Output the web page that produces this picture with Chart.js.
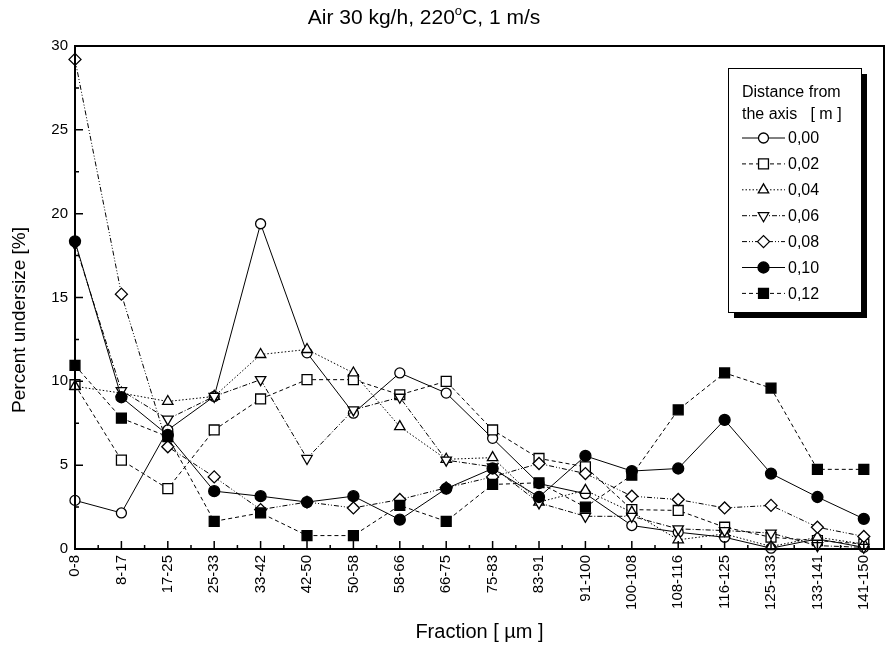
<!DOCTYPE html>
<html>
<head>
<meta charset="utf-8">
<script src="https://cdn.jsdelivr.net/npm/chart.js"></script>
<style>
  html, body { margin: 0; padding: 0; background: #fff; overflow: hidden; }
  #wrap { width: 885px; height: 648px; position: relative; }
</style>
</head>
<body>
<div id="wrap"><canvas id="grafico"></canvas></div>
<script>
// ─── Dados: frações granulométricas e percentuais por distância do eixo ──────
const FRACOES = ['0-8', '8-17', '17-25', '25-33', '33-42', '42-50', '50-58', '58-66', '66-75',
                 '75-83', '83-91', '91-100', '100-108', '108-116', '116-125', '125-133', '133-141', '141-150'];

const D000 = [2.9, 2.15, 7.1, 9.1, 19.4, 11.7, 8.1, 10.5, 9.3, 6.6, 3.9, 3.3, 1.4, 1.0, 0.7, 0.05, 0.6, 0.1];
const D002 = [9.8, 5.3, 3.6, 7.1, 8.95, 10.1, 10.1, 9.2, 10.0, 7.1, 5.4, 4.9, 2.35, 2.3, 1.3, 0.7, 0.5, 0.3];
const D004 = [9.7, 9.3, 8.8, 9.1, 11.6, 11.9, 10.5, 7.3, 5.35, 5.45, 2.8, 3.5, 2.2, 0.55, 0.9, 0.15, 0.7, 0.3];
const D006 = [18.2, 9.45, 7.75, 9.1, 10.1, 5.4, 8.3, 9.05, 5.3, 4.9, 2.75, 1.95, 1.95, 1.2, 1.1, 0.95, 0.2, 0.1];
const D008 = [29.2, 15.2, 6.1, 4.3, 2.35, 2.8, 2.45, 2.95, 3.65, 4.3, 5.1, 4.5, 3.15, 2.95, 2.45, 2.6, 1.3, 0.75];
const D010 = [18.35, 9.05, 6.8, 3.45, 3.15, 2.8, 3.15, 1.75, 3.6, 4.8, 3.1, 5.55, 4.65, 4.8, 7.7, 4.5, 3.1, 1.8];
const D012 = [10.95, 7.8, 6.7, 1.65, 2.15, 0.8, 0.8, 2.6, 1.65, 3.85, 3.95, 2.5, 4.4, 8.3, 10.5, 9.6, 4.75, 4.75];

const Y_MIN = 0, Y_MAX = 30, Y_PASSO = 5;

const FONTE = "'Liberation Sans', Arial, Helvetica, sans-serif";

// Estilo de cada série: marcador, preenchimento e tracejado
const SERIES = [
  { label: '0,00', data: D000, ponto: 'circle',   rot: 0,   cheio: false, raio: 5,   dash: [] },
  { label: '0,02', data: D002, ponto: 'rect',     rot: 0,   cheio: false, raio: 7,   dash: [4, 3] },
  { label: '0,04', data: D004, ponto: 'triangle', rot: 0,   cheio: false, raio: 6,   dash: [1.5, 2] },
  { label: '0,06', data: D006, ponto: 'triangle', rot: 180, cheio: false, raio: 6,   dash: [5, 2, 1, 2] },
  { label: '0,08', data: D008, ponto: 'rectRot',  rot: 0,   cheio: false, raio: 6,   dash: [5, 2, 1, 2, 1, 2] },
  { label: '0,10', data: D010, ponto: 'circle',   rot: 0,   cheio: true,  raio: 5.5, dash: [] },
  { label: '0,12', data: D012, ponto: 'rect',     rot: 0,   cheio: true,  raio: 7,   dash: [4, 3] },
];

const datasets = SERIES.map((s, i) => ({
  label:                s.label,
  data:                 s.data.map((v, k) => ({ x: k, y: v })),
  borderColor:          '#000',
  borderWidth:          1,
  borderDash:           s.dash,
  pointStyle:           s.ponto,
  pointRotation:        s.rot,
  pointRadius:          s.raio,
  pointBorderWidth:     1.3,
  pointBorderColor:     '#000',
  pointBackgroundColor: s.cheio ? '#000' : '#fff',
  tension:              0,
  clip:                 false,
  order:                SERIES.length - i,   // marcadores cheios por cima
}));

// ─── Marcador para a legenda ─────────────────────────────────────────────────
function desenhaMarcador(ctx, s, x, y) {
  ctx.save();
  ctx.setLineDash([]);
  ctx.lineWidth = 1.3;
  ctx.strokeStyle = '#000';
  ctx.fillStyle = s.cheio ? '#000' : '#fff';
  if (Chart.helpers && Chart.helpers.drawPoint) {
    Chart.helpers.drawPoint(ctx, { pointStyle: s.ponto, rotation: s.rot, radius: s.raio, borderWidth: 1.3 }, x, y);
  } else {
    ctx.beginPath();
    ctx.arc(x, y, s.raio, 0, Math.PI * 2);
    ctx.fill(); ctx.stroke();
  }
  ctx.restore();
}

// ─── Plugin: título, moldura, marcas internas e legenda com sombra ──────────
const decoracao = {
  id: 'decoracao',
  afterDraw(chart) {
    const { ctx, chartArea: a, scales: { x, y } } = chart;
    ctx.save();

    // Título com "o" sobrescrito
    const partes = [['Air 30 kg/h, 220', 21, 0], ['o', 13, -7], ['C, 1 m/s', 21, 0]];
    let total = 0;
    partes.forEach(([t, tam]) => { ctx.font = `${tam}px ${FONTE}`; total += ctx.measureText(t).width; });
    let cx = 424 - total / 2;
    ctx.fillStyle = '#000';
    ctx.textBaseline = 'middle';
    ctx.textAlign = 'left';
    partes.forEach(([t, tam, dy]) => {
      ctx.font = `${tam}px ${FONTE}`;
      ctx.fillText(t, cx, 18 + dy);
      cx += ctx.measureText(t).width;
    });

    // Título do eixo y
    ctx.save();
    ctx.translate(20, 320);
    ctx.rotate(-Math.PI / 2);
    ctx.textAlign = 'center';
    ctx.font = `19px ${FONTE}`;
    ctx.fillText('Percent undersize [%]', 0, 0);
    ctx.restore();

    // Moldura
    ctx.strokeStyle = '#000';
    ctx.lineWidth = 2;
    ctx.strokeRect(a.left, a.top, a.right - a.left, a.bottom - a.top);

    // Marcas para dentro: eixo x (maiores nas frações, menores no meio)
    ctx.lineWidth = 1.5;
    ctx.beginPath();
    for (let i = 0; i < FRACOES.length; i++) {
      const px = x.getPixelForValue(i);
      ctx.moveTo(px, a.bottom); ctx.lineTo(px, a.bottom - 8);
      if (i < FRACOES.length - 1) {
        const pm = x.getPixelForValue(i + 0.5);
        ctx.moveTo(pm, a.bottom); ctx.lineTo(pm, a.bottom - 4);
      }
    }
    // eixo y
    for (let v = Y_MIN; v <= Y_MAX; v += Y_PASSO) {
      const py = y.getPixelForValue(v);
      ctx.moveTo(a.left, py); ctx.lineTo(a.left + 8, py);
      if (v < Y_MAX) {
        const pm = y.getPixelForValue(v + Y_PASSO / 2);
        ctx.moveTo(a.left, pm); ctx.lineTo(a.left + 4, pm);
      }
    }
    ctx.stroke();

    // Legenda
    const bx = 728, by = 68, bw = 133, bh = 244;
    ctx.fillStyle = '#000';
    ctx.fillRect(bx + 6, by + 6, bw, bh);
    ctx.fillStyle = '#fff';
    ctx.fillRect(bx, by, bw, bh);
    ctx.lineWidth = 1;
    ctx.strokeRect(bx + 0.5, by + 0.5, bw, bh);

    ctx.fillStyle = '#000';
    ctx.font = `16px ${FONTE}`;
    ctx.textBaseline = 'middle';
    ctx.fillText('Distance from', bx + 14, by + 25);
    ctx.fillText('the axis   [ m ]', bx + 14, by + 47);

    SERIES.forEach((s, i) => {
      const ly = by + 70 + i * 25.9;
      ctx.save();
      ctx.lineWidth = 1;
      ctx.setLineDash(s.dash);
      ctx.beginPath();
      ctx.moveTo(bx + 14, ly); ctx.lineTo(bx + 57, ly);
      ctx.stroke();
      ctx.restore();
      desenhaMarcador(ctx, s, bx + 35.5, ly);
      ctx.fillStyle = '#000';
      ctx.font = `16px ${FONTE}`;
      ctx.fillText(s.label, bx + 60, ly + 1);
    });

    ctx.restore();
  },
};

new Chart(document.getElementById('grafico'), {
  type: 'line',
  data: { datasets },
  plugins: [decoracao],
  options: {
    responsive: true,
    maintainAspectRatio: false,
    animation: false,
    layout: { autoPadding: false, padding: { top: 46, right: 1, left: 0, bottom: 0 } },
    plugins: { legend: { display: false }, tooltip: { enabled: false }, title: { display: false } },
    scales: {
      x: {
        type: 'linear',
        min: 0,
        max: 17.435,
        grid: { display: false, drawTicks: false },
        border: { display: false },
        afterBuildTicks: sc => { sc.ticks = FRACOES.map((_, i) => ({ value: i })); },
        afterFit: sc => { sc.height = 99; sc.paddingLeft = 0; sc.paddingRight = 0; },
        ticks: {
          autoSkip: false,
          minRotation: 90,
          maxRotation: 90,
          padding: 6,
          color: '#000',
          font: { family: FONTE, size: 15 },
          callback: v => FRACOES[v] ?? '',
        },
        title: {
          display: true,
          text: 'Fraction [ \u00b5m ]',
          color: '#000',
          font: { family: FONTE, size: 20 },
          padding: { top: 0, bottom: 4 },
        },
      },
      y: {
        min: Y_MIN,
        max: Y_MAX,
        grid: { display: false, drawTicks: false },
        border: { display: false },
        afterFit: sc => { sc.width = 75; sc.paddingTop = 0; sc.paddingBottom = 0; },
        ticks: {
          stepSize: Y_PASSO,
          padding: 7,
          color: '#000',
          font: { family: FONTE, size: 15 },
        },
      },
    },
  },
});
</script>
</body>
</html>
